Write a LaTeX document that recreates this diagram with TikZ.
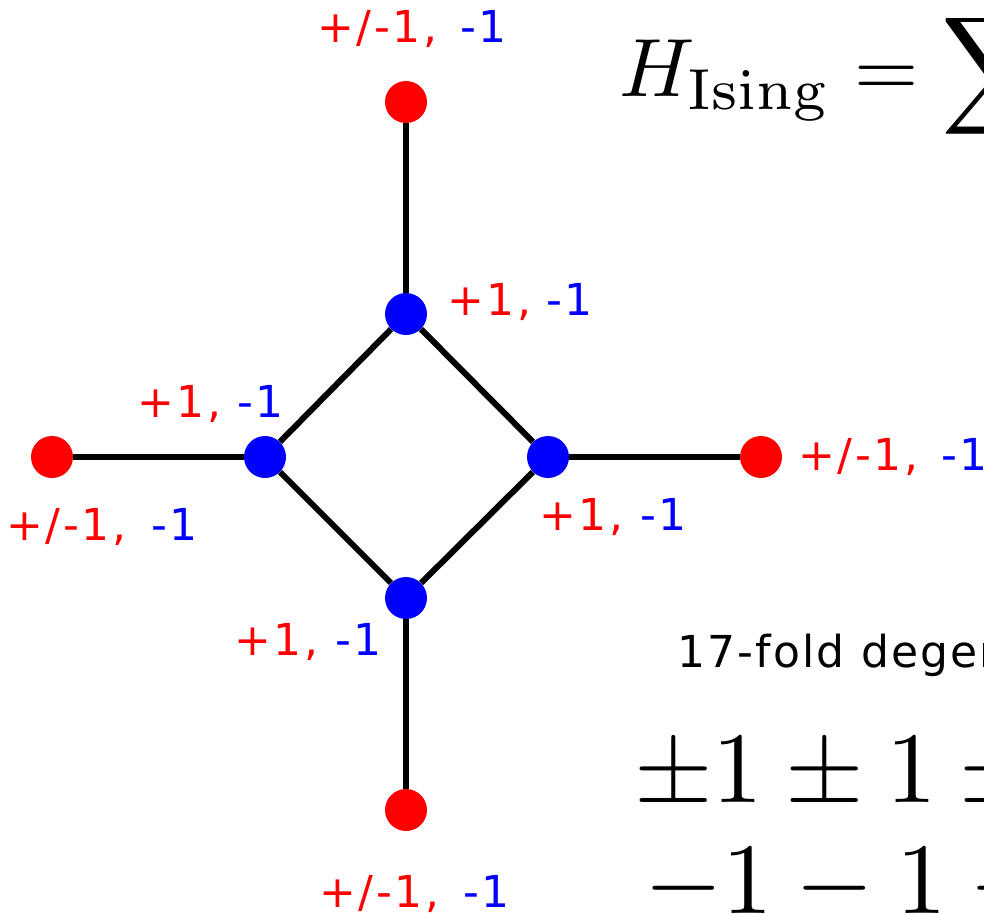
\documentclass[tikz,border=0pt]{standalone}
\usepackage[no-math]{fontspec}
\newfontfamily\labfont[LetterSpace=6]{DejaVu Sans}
\newfontfamily\degfont[LetterSpace=5]{DejaVu Sans}
\definecolor{nred}{RGB}{255,0,0}
\definecolor{nblue}{RGB}{0,0,255}
\begin{document}
\begin{tikzpicture}[x=0.75pt,y=-0.75pt,
  bond/.style={line width=4.5pt,draw=black},
  redspin/.style={circle,fill=nred,minimum size=31.5pt,inner sep=0pt},
  bluespin/.style={circle,fill=nblue,minimum size=31.5pt,inner sep=0pt},
  lab/.style={inner sep=0pt,font=\labfont\fontsize{33}{33}\selectfont},
  rlab/.style={lab,text=nred,anchor=base west},
  blab/.style={lab,text=nblue,anchor=base west},
  mathtext/.style={anchor=base west,inner sep=0pt}]
\useasboundingbox (0,0) rectangle (984,913);
% spins
\node[redspin] (rt) at (406,102) {};
\node[redspin] (rl) at (52,457) {};
\node[redspin] (rr) at (761,457) {};
\node[redspin] (rb) at (406,810) {};
\node[bluespin] (bt) at (406,314) {};
\node[bluespin] (bl) at (265,457) {};
\node[bluespin] (br) at (548,457) {};
\node[bluespin] (bb) at (406,598) {};
% bonds
\draw[bond] (rt) -- (bt);
\draw[bond] (rl) -- (bl);
\draw[bond] (rr) -- (br);
\draw[bond] (rb) -- (bb);
\draw[bond] (bt) -- (bl);
\draw[bond] (bl) -- (bb);
\draw[bond] (bb) -- (br);
\draw[bond] (br) -- (bt);
% labels
\node[rlab] (l1r) at (317,43) {+/-1,};
\node[blab] (l1b) at (460,43) {-1};
\node[rlab] (l2r) at (447,315) {+1,};
\node[blab] (l2b) at (546,315) {-1};
\node[rlab] (l3r) at (137,417) {+1,};
\node[blab] (l3b) at (237,417) {-1};
\node[rlab] (l4r) at (6,540) {+/-1,};
\node[blab] (l4b) at (151,540) {-1};
\node[rlab] (l5r) at (798,470) {+/-1,};
\node[blab] (l5b) at (941,470) {-1};
\node[rlab] (l6r) at (539,530) {+1,};
\node[blab] (l6b) at (640,530) {-1};
\node[rlab] (l7r) at (234,655) {+1,};
\node[blab] (l7b) at (335,655) {-1};
\node[rlab] (l8r) at (319,907) {+/-1,};
\node[blab] (l8b) at (463,907) {-1};
% text on the right
\node[mathtext] (ham) at (619,97) {\scalebox{6.2}{$\displaystyle H_{\mathrm{Ising}} = \sum$}};
\node[mathtext,font=\degfont\fontsize{33}{33}\selectfont] (deg) at (677,667) {17-fold degeneracy};
\node[mathtext] (pm) at (634,802) {\scalebox{7.57}{$\pm1\pm1\pm1\pm1$}};
\node[mathtext] (mm) at (644,913) {\scalebox{7.57}{$-1-1-1-1$}};
\end{tikzpicture}
\end{document}
